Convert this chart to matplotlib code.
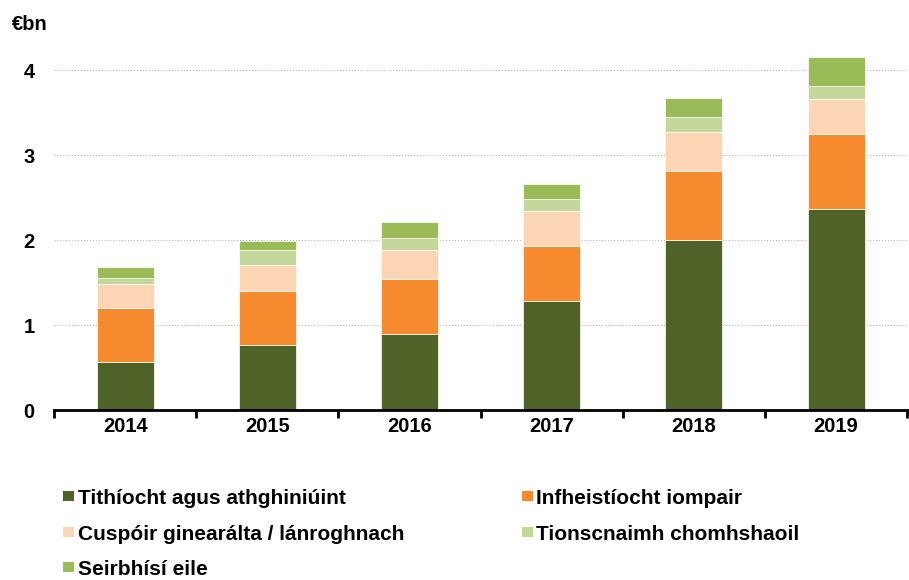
import matplotlib
matplotlib.use('Agg')
import matplotlib.pyplot as plt
from matplotlib.patches import Rectangle
import numpy as np

plt.rcParams['font.family'] = ['Liberation Sans', 'DejaVu Sans']
plt.rcParams['font.weight'] = 'bold'

# ===== Data =====
years = ['2014', '2015', '2016', '2017', '2018', '2019']
tithiocht = [0.57, 0.77, 0.90, 1.28, 2.00, 2.37]
iompar = [0.63, 0.63, 0.64, 0.65, 0.82, 0.88]
cuspoir = [0.28, 0.31, 0.34, 0.41, 0.46, 0.41]
comhshaol = [0.08, 0.17, 0.15, 0.15, 0.17, 0.16]
seirbhisi = [0.13, 0.11, 0.18, 0.17, 0.23, 0.34]

series = [
    ('Tithíocht agus athghiniúint', tithiocht, '#4F6228'),
    ('Infheistíocht iompair', iompar, '#F68A2E'),
    ('Cuspóir ginearálta / lánroghnach', cuspoir, '#FCD5B5'),
    ('Tionscnaimh chomhshaoil', comhshaol, '#C4D79B'),
    ('Seirbhísí eile', seirbhisi, '#9BBB59'),
]

# ===== Figure =====
W, H = 909, 580
fig = plt.figure(figsize=(W / 100, H / 100), dpi=100)
ax = fig.add_axes([0.0594, 0.293, 0.9386, 0.647])

x = np.arange(len(years))
bottom = np.zeros(len(years))
for name, vals, col in series:
    ax.bar(x, vals, 0.4, bottom=bottom, color=col, edgecolor='white',
           linewidth=0.5, label=name, zorder=3)
    bottom += np.array(vals)

ax.set_xlim(-0.5, len(years) - 0.5)
ax.set_ylim(0, 4.42)
ax.set_yticks([0, 1, 2, 3, 4])
ax.set_xticks(x)
ax.set_xticklabels(years)
ax.set_xticks(np.arange(-0.5, len(years)), minor=True)
ax.tick_params(axis='x', which='major', length=0, labelsize=14.5, pad=5)
ax.tick_params(axis='x', which='minor', length=6, width=2, direction='out')
ax.tick_params(axis='y', length=0, labelsize=14.5, pad=14)

for s in ['top', 'right', 'left']:
    ax.spines[s].set_visible(False)
ax.spines['bottom'].set_linewidth(2)
ax.spines['bottom'].set_zorder(4)

ax.grid(True, axis='y', linestyle=':', linewidth=0.8, color='#b8b8b8', zorder=0)

fig.text(12 / W, 1 - 24 / H, '€bn', fontsize=14.5, fontweight='bold', va='center')

# ===== Legend (two columns, placed by hand) =====
col_x = [63, 522]          # marker left edge, px
row_base = [504, 540, 575]  # text baseline, px
slots = [(0, 0), (1, 0), (0, 1), (1, 1), (0, 2)]
for (name, vals, col), (c, r) in zip(series, slots):
    cy = row_base[r] - 8
    fig.add_artist(Rectangle((col_x[c] / W, 1 - (cy + 5) / H), 10.5 / W, 10 / H,
                             transform=fig.transFigure, facecolor=col,
                             edgecolor='none'))
    fig.text((col_x[c] + 14.5) / W, 1 - row_base[r] / H, name, fontsize=15,
             fontweight='bold', va='baseline', ha='left')

plt.savefig('out.png', dpi=100)
plt.close()
